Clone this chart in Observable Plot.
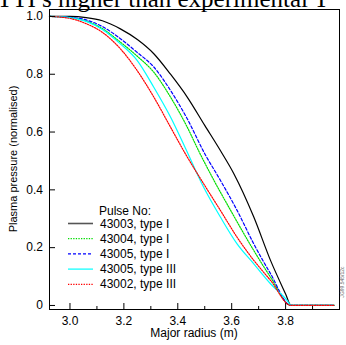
<!DOCTYPE html>
<html><head><meta charset="utf-8">
<script src="https://cdn.jsdelivr.net/npm/d3@7"></script>
<script src="https://cdn.jsdelivr.net/npm/@observablehq/plot@0.6"></script>
<style>
body{margin:0;background:#fff}
#c{position:relative;width:346px;height:345px;overflow:hidden}
</style>
</head><body><div id="c"></div>
<script>
// ---- data ----
const seriesNames  = ["43003, type I", "43004, type I", "43005, type I", "43005, type III", "43002, type III"];
const seriesColors = ["#000000", "#00dd00", "#0000ff", "#00ffff", "#ff0000"];
const seriesDash   = [null, "1.3,1.3", "3,2", null, "1.3,1.3"];

const r_43003_I   = [2.924, 3.0, 3.06, 3.12, 3.187, 3.25, 3.311, 3.373, 3.435, 3.50, 3.558, 3.608, 3.682, 3.744, 3.80, 3.82, 3.98];
const p_43003_I   = [1.0, 1.0, 0.996, 0.985, 0.957, 0.92, 0.871, 0.80, 0.721, 0.623, 0.536, 0.456, 0.306, 0.156, 0.04, 0.0, 0.0];

const r_43004_I   = [2.924, 3.0, 3.06, 3.12, 3.187, 3.25, 3.311, 3.373, 3.435, 3.48, 3.534, 3.596, 3.682, 3.744, 3.82, 3.98];
const p_43004_I   = [1.0, 0.996, 0.984, 0.958, 0.911, 0.862, 0.807, 0.721, 0.617, 0.53, 0.433, 0.329, 0.19, 0.098, 0.0, 0.0];

const r_43005_I   = [2.924, 3.0, 3.06, 3.12, 3.187, 3.25, 3.311, 3.373, 3.435, 3.50, 3.558, 3.62, 3.682, 3.744, 3.82, 3.98];
const p_43005_I   = [1.0, 0.997, 0.988, 0.965, 0.923, 0.875, 0.825, 0.744, 0.646, 0.525, 0.433, 0.329, 0.213, 0.11, 0.0, 0.0];

const r_43005_III = [2.924, 3.0, 3.06, 3.12, 3.187, 3.249, 3.311, 3.373, 3.428, 3.496, 3.558, 3.62, 3.682, 3.744, 3.806, 3.82, 3.98];
const p_43005_III = [1.0, 0.996, 0.983, 0.955, 0.905, 0.848, 0.755, 0.652, 0.545, 0.409, 0.306, 0.213, 0.144, 0.075, 0.017, 0.0, 0.0];

const r_43002_III = [2.924, 2.96, 3.0, 3.06, 3.12, 3.187, 3.249, 3.311, 3.373, 3.428, 3.496, 3.558, 3.62, 3.682, 3.744, 3.82, 3.98];
const p_43002_III = [1.0, 0.998, 0.993, 0.975, 0.945, 0.888, 0.813, 0.721, 0.617, 0.525, 0.421, 0.329, 0.236, 0.156, 0.087, 0.0, 0.0];

const xMajorTicks = [3.0, 3.2, 3.4, 3.6, 3.8];
const xMinorTicks = [3.1, 3.3, 3.5, 3.7, 3.9];
const yTicks = [0, 0.2, 0.4, 0.6, 0.8, 1.0];

const titleText = "TTI s higher than experimental T";
const xLabel = "Major radius (m)";
const yLabel = "Plasma pressure (normalised)";
const legendTitle = "Pulse No:";
const stampText = "JG99.545/12c";

// ---- build ----
const seriesR = [r_43003_I, r_43004_I, r_43005_I, r_43005_III, r_43002_III];
const seriesP = [p_43003_I, p_43004_I, p_43005_I, p_43005_III, p_43002_III];
const tables = seriesR.map((rs, i) => rs.map((r, j) => ({r, p: seriesP[i][j]})));

const lineMarks = tables.map((t, i) => Plot.line(t, {
  x: "r", y: "p", stroke: seriesColors[i], strokeWidth: 1.2,
  strokeDasharray: seriesDash[i] || undefined, curve: "monotone-x"
}));

const chart = Plot.plot({
  width: 346, height: 345,
  marginLeft: 49, marginRight: 7, marginTop: 9, marginBottom: 36,
  x: {domain: [2.924, 4.0]},
  y: {domain: [-0.014, 1.024]},
  style: {fontFamily: "'Liberation Sans', Arial, sans-serif", fontSize: "12px", color: "black", background: "white", overflow: "visible"},
  marks: [
    ...lineMarks,
    Plot.frame({stroke: "black"}),
    Plot.axisX(xMajorTicks, {tickSize: -6, tickPadding: 12.5, tickFormat: d => d.toFixed(1), label: null}),
    Plot.axisX(xMinorTicks, {tickSize: -3, tickPadding: 0, tickFormat: () => "", label: null}),
    Plot.axisY(yTicks, {tickSize: -6, tickPadding: 12.5, tickFormat: d => d === 0 ? "0" : d.toFixed(1), label: null})
  ]
});
document.getElementById("c").appendChild(chart);

const svg = d3.select(chart);
// clipped heading above
svg.append("text").attr("x", -3).attr("y", 6.5).attr("text-anchor", "start")
  .attr("font-family", "'Liberation Serif', 'Times New Roman', serif").attr("font-size", 25)
  .attr("fill", "black").text(titleText);
// axis labels
svg.append("text").attr("transform", "translate(13,159) rotate(-90)")
  .attr("text-anchor", "middle").attr("dominant-baseline", "central")
  .attr("font-size", 11).attr("fill", "black").text(yLabel);
svg.append("text").attr("x", 194).attr("y", 337)
  .attr("text-anchor", "middle").attr("font-size", 12).attr("fill", "black").text(xLabel);
// legend
const lg = svg.append("g").attr("font-size", 12).attr("text-anchor", "start");
lg.append("text").attr("x", 99).attr("y", 211).attr("dominant-baseline", "central").text(legendTitle);
seriesNames.forEach((name, i) => {
  const yy = 223.5 + i * 15.2;
  lg.append("line").attr("x1", 68).attr("x2", 93).attr("y1", yy).attr("y2", yy)
    .attr("stroke", i === 0 ? "#555" : seriesColors[i]).attr("stroke-width", i === 0 ? 1.6 : 1.2)
    .attr("stroke-dasharray", seriesDash[i] || null);
  lg.append("text").attr("x", 100).attr("y", yy).attr("dominant-baseline", "central").text(name);
});
// tiny stamp
svg.append("text").attr("transform", "translate(344,282) rotate(-90)")
  .attr("text-anchor", "middle").attr("font-size", 5).attr("fill", "#666").text(stampText);
</script>
</body></html>
